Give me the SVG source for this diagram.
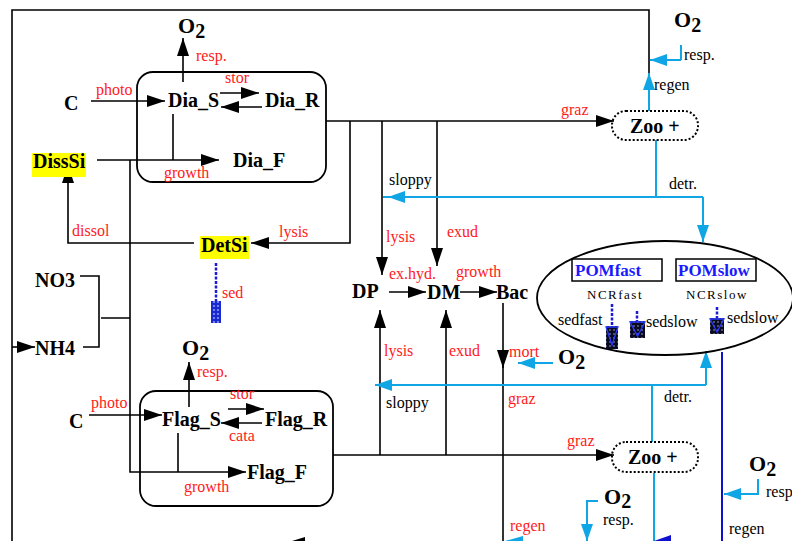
<svg xmlns="http://www.w3.org/2000/svg" width="792" height="541" viewBox="0 0 792 541">
<style>
text{font-family:"Liberation Serif","Times New Roman",serif}
.n{font-weight:bold;font-size:20px;fill:#000}
.o{font-weight:bold;font-size:22px;fill:#000}
.r{font-size:16px;fill:#ff1a1a}
.k{font-size:16px;fill:#000}
.p{font-weight:bold;font-size:17px;fill:#1a1aff}
.c{font-size:13px;fill:#000;letter-spacing:1.5px}
.s{font-size:16px;fill:#000}
.bk{fill:none;stroke:#000;stroke-width:1.6}
.bl{fill:none;stroke:#10a5e5;stroke-width:2}
.db{fill:none;stroke:#1010d0;stroke-width:2}
.box{fill:none;stroke:#000;stroke-width:1.8}
.zoo{fill:none;stroke:#000;stroke-width:2;stroke-dasharray:2 2}
.ds{fill:none;stroke:#1a1ad8;stroke-width:2.5;stroke-dasharray:3 1.5}
</style>
<defs>
<marker id="ab" viewBox="0 0 18 12" refX="18" refY="6" markerWidth="18" markerHeight="12" orient="auto" markerUnits="userSpaceOnUse"><path d="M0,0L18,6L0,12z" fill="#000"/></marker>
<marker id="bb" viewBox="0 0 17 12" refX="17" refY="6" markerWidth="17" markerHeight="12" orient="auto" markerUnits="userSpaceOnUse"><path d="M0,0L17,6L0,12z" fill="#10a5e5"/></marker>
<pattern id="hb" width="4" height="4" patternUnits="userSpaceOnUse"><rect width="4" height="4" fill="#1a2ad0"/><circle cx="2" cy="2" r="0.9" fill="#9fb0ff"/></pattern>
<pattern id="hk" width="4" height="4" patternUnits="userSpaceOnUse"><rect width="4" height="4" fill="#0a0a20"/><circle cx="2" cy="2" r="0.7" fill="#c0c8ff"/></pattern>
</defs>

<g id="connectors">
<path class="bk" d="M12,541V10H649V74"/>
<path class="bk" d="M12,347H35" marker-end="url(#ab)"/>
<path class="bk" d="M183,82V38" marker-end="url(#ab)"/>
<path class="bk" d="M91,101H165" marker-end="url(#ab)"/>
<path class="bk" d="M220,93H259" marker-end="url(#ab)"/>
<path class="bk" d="M262,107H221" marker-end="url(#ab)"/>
<path class="bk" d="M173,114V160"/>
<path class="bk" d="M97,160H219" marker-end="url(#ab)"/>
<path class="bk" d="M130,160V472H246" marker-end="url(#ab)"/>
<path class="bk" d="M194,243H68V165" marker-end="url(#ab)"/>
<path class="bk" d="M80,276H99V347H83M101,318H130"/>
<path class="bk" d="M326,121H614" marker-end="url(#ab)"/>
<path class="bk" d="M350,121V243H251" marker-end="url(#ab)"/>
<path class="bk" d="M382,121V275" marker-end="url(#ab)"/>
<path class="bk" d="M437,121V266" marker-end="url(#ab)"/>
<path class="bk" d="M389,292H426" marker-end="url(#ab)"/>
<path class="bk" d="M460,292H497" marker-end="url(#ab)"/>
<path class="bk" d="M503,303V368" marker-end="url(#ab)"/>
<path class="bk" d="M503,360V541"/>
<path class="bk" d="M189,407V362" marker-end="url(#ab)"/>
<path class="bk" d="M89,415H162" marker-end="url(#ab)"/>
<path class="bk" d="M228,409H264" marker-end="url(#ab)"/>
<path class="bk" d="M262,423H221" marker-end="url(#ab)"/>
<path class="bk" d="M178,433V472"/>
<path class="bk" d="M333,455H614" marker-end="url(#ab)"/>
<path class="bk" d="M380,455V310" marker-end="url(#ab)"/>
<path class="bk" d="M446,455V310" marker-end="url(#ab)"/>
<path d="M292,541L305,537V541z" fill="#000"/>

<path class="bl" d="M649,111V73" marker-end="url(#bb)"/>
<path class="bl" d="M681,60H650" marker-end="url(#bb)"/>
<path class="bl" d="M681,45V60"/>
<path class="bl" d="M656,140V197"/>
<path class="bl" d="M703,197H388" marker-end="url(#bb)"/>
<path class="bl" d="M390,197H383"/>
<path class="bl" d="M703,197V242" marker-end="url(#bb)"/>
<path class="bl" d="M652,442V385"/>
<path class="bl" d="M706,385H375" marker-end="url(#bb)"/>
<path class="bl" d="M706,385V351" marker-end="url(#bb)"/>
<path class="bl" d="M553,363H518" marker-end="url(#bb)"/>
<path class="bl" d="M758,479V494H724" marker-end="url(#bb)"/>
<path class="bl" d="M598,501H587V541" marker-end="url(#bb)"/>
<path class="bl" d="M654,473V541"/>
<path d="M505,541L523,536V541z" fill="#10a5e5"/>
<path class="db" d="M722,352V541"/>
<path d="M654,541L671,535V541z" fill="#1010d0"/>
</g>

<g id="O2-top"><text class="o" x="178" y="33">O<tspan font-size="20" dy="5">2</tspan></text></g>
<g id="lbl-resp1"><text class="r" x="196" y="61">resp.</text></g>
<g id="dia-box"><rect class="box" x="137" y="72" width="189" height="110" rx="16"/></g>
<g id="C1"><text class="n" x="64" y="110">C</text><text class="r" x="96" y="95">photo</text></g>
<g id="Dia_S"><text class="n" x="168" y="107">Dia_S</text></g>
<g id="Dia_R"><text class="n" x="265" y="107">Dia_R</text><text class="r" x="225" y="83">stor</text></g>
<g id="Dia_F"><text class="n" x="233" y="167">Dia_F</text><text class="r" x="164" y="178">growth</text></g>
<g id="DissSi"><rect x="32" y="153" width="54" height="24" fill="#ffff00"/><text class="n" x="33" y="168">DissSi</text></g>
<g id="lbl-dissol"><text class="r" x="72" y="236">dissol</text></g>
<g id="DetSi"><rect x="200" y="236" width="49" height="23" fill="#ffff00"/><text class="n" x="201" y="252">DetSi</text><text class="r" x="279" y="237">lysis</text></g>
<g id="sed"><path class="ds" d="M216,263V301"/><rect x="211" y="301" width="10" height="22" fill="url(#hb)"/><text class="r" x="222" y="298">sed</text></g>
<g id="NO3"><text class="n" x="35" y="287">NO3</text></g>
<g id="NH4"><text class="n" x="35" y="355">NH4</text></g>

<g id="zoo-top"><rect class="zoo" x="612" y="111" width="86" height="29" rx="14"/><text class="n" x="630" y="133">Zoo +</text><text class="r" x="561" y="115">graz</text></g>
<g id="O2-right"><text class="o" x="674" y="27">O<tspan font-size="20" dy="5">2</tspan></text><text class="k" x="684" y="60">resp.</text><text class="k" x="654" y="90">regen</text></g>
<g id="lbl-sloppy1"><text class="k" x="389" y="185">sloppy</text><text class="k" x="669" y="189">detr.</text></g>
<g id="lbl-up"><text class="r" x="386" y="242">lysis</text><text class="r" x="447" y="237">exud</text></g>
<g id="DP"><text class="n" x="352" y="298">DP</text><text class="r" x="389" y="279">ex.hyd.</text></g>
<g id="DM"><text class="n" x="427" y="299">DM</text><text class="r" x="456" y="277">growth</text></g>
<g id="Bac"><text class="n" x="496" y="299">Bac</text></g>
<g id="lbl-low"><text class="r" x="384" y="356">lysis</text><text class="r" x="449" y="356">exud</text><text class="r" x="509" y="357">mort</text></g>
<g id="O2-mort"><text class="o" x="558" y="364">O<tspan font-size="20" dy="5">2</tspan></text></g>

<g id="POM">
<ellipse cx="665" cy="298" rx="128" ry="57" fill="none" stroke="#000" stroke-width="1.8"/>
<rect x="572" y="259" width="90" height="22" fill="none" stroke="#000" stroke-width="1.5"/>
<text class="p" x="575" y="276">POMfast</text>
<rect x="676" y="259" width="80" height="22" fill="none" stroke="#000" stroke-width="1.5"/>
<text class="p" x="678" y="276">POMslow</text>
<text class="c" x="587" y="299">NCRfast</text>
<text class="c" x="686" y="299">NCRslow</text>
<text class="s" x="558" y="325">sedfast</text>
<text class="s" x="646" y="327">sedslow</text>
<text class="s" x="727" y="323">sedslow</text>
<path class="ds" d="M612,304V326"/>
<rect x="606" y="326" width="12" height="23" fill="url(#hk)"/>
<path d="M606,327H618L612,345z" fill="none" stroke="#2a3aff" stroke-width="1.3"/>
<path class="ds" d="M637,311V321"/>
<rect x="630" y="321" width="15" height="17" fill="url(#hk)"/>
<path d="M630,322H645L637.5,336z" fill="none" stroke="#2a3aff" stroke-width="1.3"/>
<path class="ds" d="M717,307V318"/>
<rect x="710" y="318" width="14" height="16" fill="url(#hk)"/>
<path d="M710,319H724L717,332z" fill="none" stroke="#2a3aff" stroke-width="1.3"/>
</g>

<g id="O2-flag"><text class="o" x="182" y="355">O<tspan font-size="20" dy="5">2</tspan></text><text class="r" x="197" y="377">resp.</text></g>
<g id="flag-box"><rect class="box" x="140" y="391" width="193" height="115" rx="16"/></g>
<g id="C2"><text class="n" x="69" y="428">C</text><text class="r" x="91" y="408">photo</text></g>
<g id="Flag_S"><text class="n" x="162" y="426">Flag_S</text></g>
<g id="Flag_R"><text class="n" x="265" y="426">Flag_R</text><text class="r" x="230" y="399">stor</text><text class="r" x="229" y="441">cata</text></g>
<g id="Flag_F"><text class="n" x="247" y="479">Flag_F</text><text class="r" x="184" y="492">growth</text></g>

<g id="lbl-sloppy2"><text class="k" x="386" y="408">sloppy</text><text class="k" x="664" y="402">detr.</text><text class="r" x="508" y="404">graz</text></g>
<g id="zoo-bot"><rect class="zoo" x="612" y="442" width="86" height="30" rx="14"/><text class="n" x="628" y="464">Zoo +</text><text class="r" x="567" y="446">graz</text></g>
<g id="O2-br"><text class="o" x="749" y="471">O<tspan font-size="20" dy="5">2</tspan></text><text class="k" x="766" y="497">resp</text><text class="k" x="729" y="534">regen</text></g>
<g id="O2-bm"><text class="o" x="604" y="504">O<tspan font-size="20" dy="4">2</tspan></text><text class="k" x="603" y="525">resp.</text></g>
<g id="lbl-regen"><text class="r" x="510" y="531">regen</text></g>
</svg>
